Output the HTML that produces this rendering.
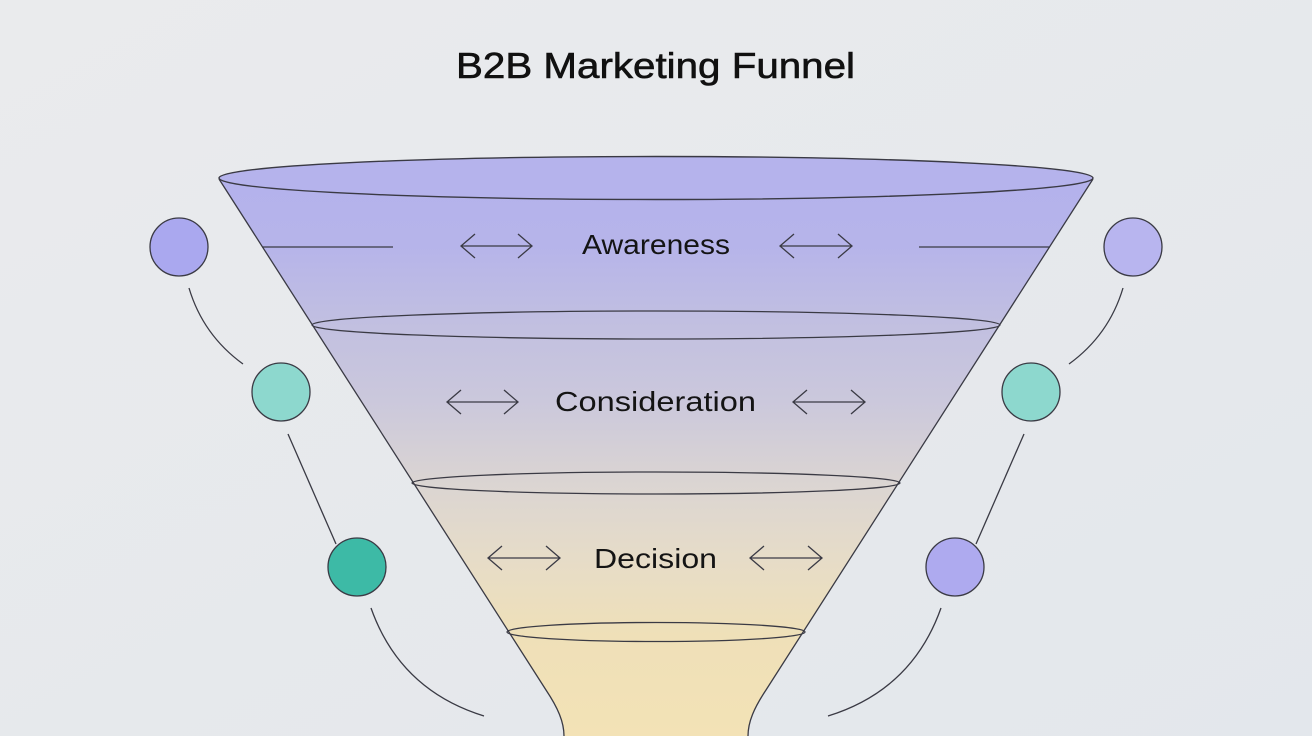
<!DOCTYPE html>
<html><head><meta charset="utf-8"><style>
html,body{margin:0;padding:0;width:1312px;height:736px;overflow:hidden;background:#e6e9ed}
svg{display:block}
</style></head><body>
<svg width="1312" height="736" viewBox="0 0 1312 736" xmlns="http://www.w3.org/2000/svg">
<defs>
<linearGradient id="bg" x1="0" y1="0" x2="1" y2="1">
<stop offset="0" stop-color="#eaebed"/><stop offset="1" stop-color="#e3e7ec"/>
</linearGradient>
<linearGradient id="fun" x1="0" y1="178" x2="0" y2="736" gradientUnits="userSpaceOnUse">
<stop offset="0" stop-color="#b4b2ec"/>
<stop offset="0.12" stop-color="#b6b4ea"/>
<stop offset="0.27" stop-color="#c2c0e0"/>
<stop offset="0.40" stop-color="#cbc8dc"/>
<stop offset="0.55" stop-color="#dbd5d2"/>
<stop offset="0.68" stop-color="#e6dcc8"/>
<stop offset="0.82" stop-color="#efe0b8"/>
<stop offset="1" stop-color="#f3e2b6"/>
</linearGradient>
</defs>
<rect width="1312" height="736" fill="url(#bg)"/>

<text x="456" y="78" font-family="Liberation Sans, sans-serif" font-size="36" fill="#111" stroke="#111" stroke-width="0.6" textLength="399" lengthAdjust="spacingAndGlyphs">B2B Marketing Funnel</text>

<!-- funnel body -->
<path d="M219,179 L546,690 C558,708 564,722 564,736 L748,736 C748,722 754,708 766,690 L1093,179 Z" fill="url(#fun)"/>
<path d="M219,179 L546,690 C558,708 564,722 564,736" fill="none" stroke="#3a3a44" stroke-width="1.3"/>
<path d="M1093,179 L766,690 C754,708 748,722 748,736" fill="none" stroke="#3a3a44" stroke-width="1.3"/>

<ellipse cx="656" cy="178" rx="437" ry="21.5" fill="#b5b3ec" stroke="#3a3a44" stroke-width="1.4"/>
<ellipse cx="656" cy="325" rx="344" ry="14" fill="none" stroke="#3a3a44" stroke-width="1.3"/>
<ellipse cx="656" cy="483" rx="244" ry="11" fill="none" stroke="#3a3a44" stroke-width="1.3"/>
<ellipse cx="656" cy="632" rx="149" ry="9.5" fill="none" stroke="#3a3a44" stroke-width="1.3"/>

<!-- horizontal lines -->
<g stroke="#3a3a44" stroke-width="1.3" fill="none">
<path d="M262,247 L393,247"/>
<path d="M919,247 L1050,247"/>
<!-- arrows -->
<path d="M461,246 L532,246 M475,234 L461,246 L475,258 M518,234 L532,246 L518,258"/>
<path d="M780,246 L852,246 M794,234 L780,246 L794,258 M838,234 L852,246 L838,258"/>
<path d="M447,402 L518,402 M461,390 L447,402 L461,414 M504,390 L518,402 L504,414"/>
<path d="M793,402 L865,402 M807,390 L793,402 L807,414 M851,390 L865,402 L851,414"/>
<path d="M488,558 L560,558 M502,546 L488,558 L502,570 M546,546 L560,558 L546,570"/>
<path d="M750,558 L822,558 M764,546 L750,558 L764,570 M808,546 L822,558 L808,570"/>
<!-- connectors -->
<path d="M189,288 Q203,335 243,364"/>
<path d="M1123,288 Q1109,335 1069,364"/>
<path d="M288,434 L336,544"/>
<path d="M1024,434 L976,544"/>
<path d="M371,608 Q400,690 484,716"/>
<path d="M941,608 Q912,690 828,716"/>
</g>

<g font-family="Liberation Sans, sans-serif" font-size="28" fill="#141414">
<text x="582" y="254" textLength="148" lengthAdjust="spacingAndGlyphs">Awareness</text>
<text x="555" y="411" textLength="201" lengthAdjust="spacingAndGlyphs">Consideration</text>
<text x="594" y="568" textLength="123" lengthAdjust="spacingAndGlyphs">Decision</text>
</g>

<!-- circles -->
<g stroke="#3a3a44" stroke-width="1.3">
<circle cx="179" cy="247" r="29" fill="#aaa8ef"/>
<circle cx="281" cy="392" r="29" fill="#8dd8ce"/>
<circle cx="357" cy="567" r="29" fill="#3dbaa6"/>
<circle cx="1133" cy="247" r="29" fill="#b8b5ef"/>
<circle cx="1031" cy="392" r="29" fill="#8dd8ce"/>
<circle cx="955" cy="567" r="29" fill="#aeaaef"/>
</g>
</svg>
</body></html>
